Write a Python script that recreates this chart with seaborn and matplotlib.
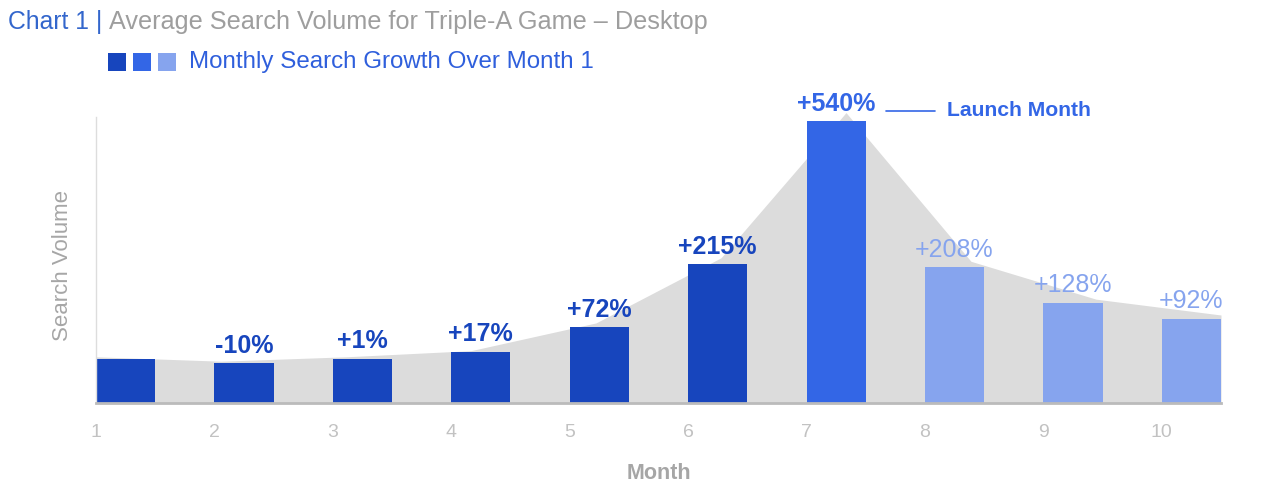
import numpy as np
import pandas as pd
import matplotlib
matplotlib.use("Agg")
import matplotlib.pyplot as plt
from matplotlib.patches import Rectangle
import seaborn as sns

# ---- data ----
months = [1, 2, 3, 4, 5, 6, 7, 8, 9, 10]
volume = [1.00, 0.90, 1.01, 1.17, 1.72, 3.15, 6.40, 3.08, 2.28, 1.92]
growth_labels = ["", "-10%", "+1%", "+17%", "+72%", "+215%", "+540%", "+208%", "+128%", "+92%"]
phase = ["pre", "pre", "pre", "pre", "pre", "pre", "launch", "post", "post", "post"]
area_volume = [1.05, 0.95, 1.05, 1.19, 1.82, 3.30, 6.60, 3.22, 2.36, 2.00]
tick_labels = ["1", "2", "3", "4", "5", "6", "7", "8", "9", "10"]

DARK = "#1745bd"
MID = "#3366e6"
LIGHT = "#86a4ee"
palette = {"pre": DARK, "launch": MID, "post": LIGHT}
label_color = {"pre": DARK, "launch": MID, "post": LIGHT}
label_weight = {"pre": "bold", "launch": "bold", "post": "normal"}

sns.set_theme(style="white")
plt.rcParams["font.family"] = ["Liberation Sans", "DejaVu Sans"]

fig = plt.figure(figsize=(12.68, 5.03), dpi=100)
ax = fig.add_axes([96 / 1268, 1 - 403 / 503, (1221 - 96) / 1268, (403 - 117) / 503])

df = pd.DataFrame({"month": months, "volume": volume, "phase": phase})

# background area
area_x = np.linspace(months[0], months[-1] + 0.5, len(area_volume))
ax.fill_between(area_x, 0, area_volume, color="#dcdcdc", lw=0, zorder=1, clip_on=False)

sns.barplot(data=df, x="month", y="volume", hue="phase", palette=palette,
            native_scale=True, dodge=False, width=0.5, legend=False,
            saturation=1, linewidth=0, ax=ax, zorder=2)
for p in ax.patches:
    if isinstance(p, Rectangle):
        p.set_x(p.get_x() + p.get_width() / 2)
        p.set_zorder(2)

ax.set_xlim(months[0], months[-1] + 0.5)
ax.set_ylim(0, 6.5)
ax.set_xticks(months)
ax.set_xticklabels(tick_labels, color="#c2c2c2", fontsize=14)
ax.set_yticks([])
ax.tick_params(axis="x", length=0, pad=15)
ax.set_xlabel("Month", color="#a6a6a6", fontsize=15.5, fontweight="bold", labelpad=16)
ax.set_ylabel("Search Volume", color="#a6a6a6", fontsize=16)
ax.yaxis.set_label_coords(-0.02, 0.48)
ax.patch.set_alpha(0)

for s in ["top", "right"]:
    ax.spines[s].set_visible(False)
ax.spines["left"].set_color("#dddddd")
ax.spines["left"].set_linewidth(1)
ax.spines["bottom"].set_color("#bbbbbb")
ax.spines["bottom"].set_linewidth(2)

for m, v, lab, ph in zip(months, volume, growth_labels, phase):
    if lab:
        ax.annotate(lab, xy=(m + 0.25, v), xytext=(0, 7.5), textcoords="offset points",
                    ha="center", va="baseline", fontsize=18,
                    color=label_color[ph], fontweight=label_weight[ph],
                    annotation_clip=False, zorder=5)

# launch month callout
y_launch = 1 - 110.5 / 503
fig.add_artist(plt.Line2D([886 / 1268, 935 / 1268], [y_launch, y_launch], color=MID, lw=1.2))
fig.text(947 / 1268, y_launch, "Launch Month", color=MID, fontsize=15.2,
         fontweight="bold", va="center", ha="left")

# title
t1 = fig.text(8 / 1268, 1 - 22 / 503, "Chart 1 |", color="#3366cc", fontsize=17.8,
              va="center", ha="left")
fig.canvas.draw()
bb = t1.get_window_extent()
fig.text((bb.x1 + 7) / 1268, 1 - 22 / 503, "Average Search Volume for Triple-A Game \u2013 Desktop",
         color="#9e9e9e", fontsize=18.2, va="center", ha="left")

# legend
for x0, c in zip([108, 133, 158], [DARK, MID, LIGHT]):
    fig.add_artist(Rectangle((x0 / 1268, 1 - 71 / 503), 18 / 1268, 18 / 503,
                             transform=fig.transFigure, color=c, lw=0))
fig.text(189 / 1268, 1 - 62 / 503, "Monthly Search Growth Over Month 1", color="#2f5fdc",
         fontsize=17.4, va="center", ha="left")

fig.savefig("out.png", dpi=100)
